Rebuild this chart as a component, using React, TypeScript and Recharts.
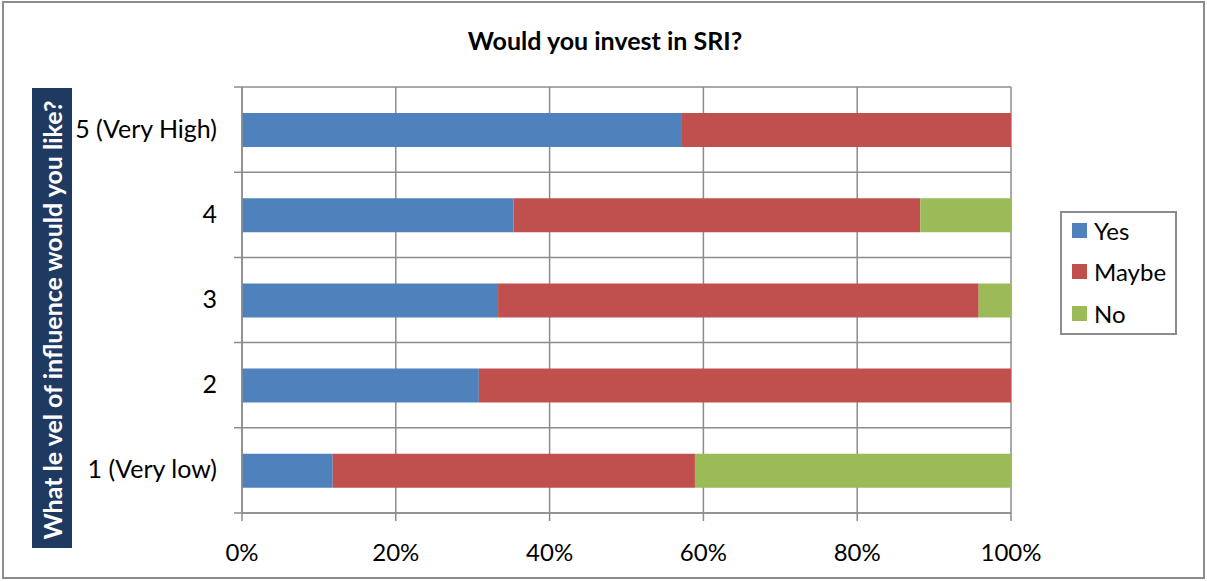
import React from "react";
import { BarChart, Bar, XAxis, YAxis, CartesianGrid } from "recharts";

const categories = ["5 (Very High)", "4", "3", "2", "1 (Very low)"];
const yesValues = [57.1, 35.3, 33.3, 30.8, 11.8];
const maybeValues = [42.9, 52.9, 62.5, 69.2, 47.1];
const noValues = [0, 11.8, 4.2, 0, 41.1];
const xTicks = [0, 20, 40, 60, 80, 100];

const seriesNames = ["Yes", "Maybe", "No"];
const seriesColors = ["#4f81bd", "#c0504d", "#9bbb59"];

const data = categories.map((level, i) => ({
  level,
  Yes: yesValues[i],
  Maybe: maybeValues[i],
  No: noValues[i],
}));

const W = 1207;
const H = 581;
const xAxisHeight = 30;
const margin = { top: 87, right: 196, bottom: 68 - xAxisHeight, left: 0 };
const yAxisWidth = 242;
const plotLeft = margin.left + yAxisWidth;
const plotRight = W - margin.right;
const band = (H - margin.top - margin.bottom - xAxisHeight) / categories.length;
const font = "Lato, 'Open Sans', sans-serif";
const gridColor = "#8c8c8c";

// band edges (same layout numbers the chart uses)
const rowEdges = Array.from({ length: categories.length + 1 }, (_, i) => margin.top + i * band);

function LevelTick(props: any) {
  const { y, payload } = props;
  return (
    <text x={plotLeft - 25} y={y} dy={8} textAnchor="end" fill="#000" fontSize={25} fontFamily={font}>
      {payload.value}
    </text>
  );
}

function LegendBox() {
  return (
    <div
      style={{
        position: "absolute",
        left: 1060,
        top: 211,
        border: "2px solid #8c8c8c",
        width: 117,
        height: 124,
        boxSizing: "border-box",
        fontFamily: font,
        fontSize: 24,
        background: "#fff",
      }}
    >
      {seriesNames.map((name, i) => (
        <div
          key={name}
          style={{ position: "absolute", left: 10, top: 3 + i * 41.5, display: "flex", alignItems: "center", height: 28 }}
        >
          <span style={{ width: 15, height: 15, background: seriesColors[i], marginRight: 7 }} />
          <span>{name}</span>
        </div>
      ))}
    </div>
  );
}

export default function App() {
  return (
    <div style={{ position: "absolute", left: 0, top: 0, width: W, height: H, background: "#fff" }}>
      <div
        style={{
          position: "absolute",
          left: 2,
          top: 1,
          width: 1203,
          height: 578,
          border: "2px solid #8c8c8c",
          boxSizing: "border-box",
        }}
      />
      <div
        style={{
          position: "absolute",
          left: 0,
          width: 1210,
          top: 25,
          textAlign: "center",
          fontFamily: font,
          fontWeight: 700,
          fontSize: 25,
        }}
      >
        Would you invest in SRI?
      </div>
      <div
        style={{
          position: "absolute",
          left: 32,
          top: 88,
          width: 40,
          height: 460,
          background: "#1f3a60",
        }}
      >
        <div
          style={{
            position: "absolute",
            left: 20,
            top: 232,
            width: 460,
            transform: "translate(-50%, -50%) rotate(-90deg)",
            color: "#fff",
            fontFamily: font,
            fontWeight: 700,
            fontSize: 25,
            textAlign: "center",
            whiteSpace: "nowrap",
          }}
        >
          What le vel of influence would you like?
        </div>
      </div>
      <div style={{ position: "absolute", left: 0, top: 0 }}>
        <BarChart width={W} height={H} data={data} layout="vertical" margin={margin} barSize={34}>
          <CartesianGrid stroke={gridColor} strokeWidth={1.5} horizontal={false} />
          <XAxis
            type="number"
            domain={[0, 100]}
            ticks={xTicks}
            tickFormatter={(v: number) => `${v}%`}
            stroke={gridColor}
            strokeWidth={1.5}
            height={xAxisHeight}
            tickSize={8}
            tickMargin={23}
            tick={{ fill: "#000", fontSize: 24, fontFamily: font }}
            interval={0}
          />
          <YAxis
            type="category"
            dataKey="level"
            width={yAxisWidth}
            stroke={gridColor}
            strokeWidth={1.5}
            tickLine={false}
            tick={<LevelTick />}
            interval={0}
          />
          {seriesNames.map((name, i) => (
            <Bar key={name} dataKey={name} stackId="a" fill={seriesColors[i]} isAnimationActive={false} />
          ))}
        </BarChart>
      </div>
      {/* horizontal grid lines on the band edges, with the short stubs left of the axis */}
      <svg width={W} height={H} style={{ position: "absolute", left: 0, top: 0, pointerEvents: "none" }}>
        {rowEdges.map((y) => (
          <line key={y} x1={plotLeft - 8} x2={plotRight} y1={y} y2={y} stroke={gridColor} strokeWidth={1.5} />
        ))}
      </svg>
      <LegendBox />
    </div>
  );
}
